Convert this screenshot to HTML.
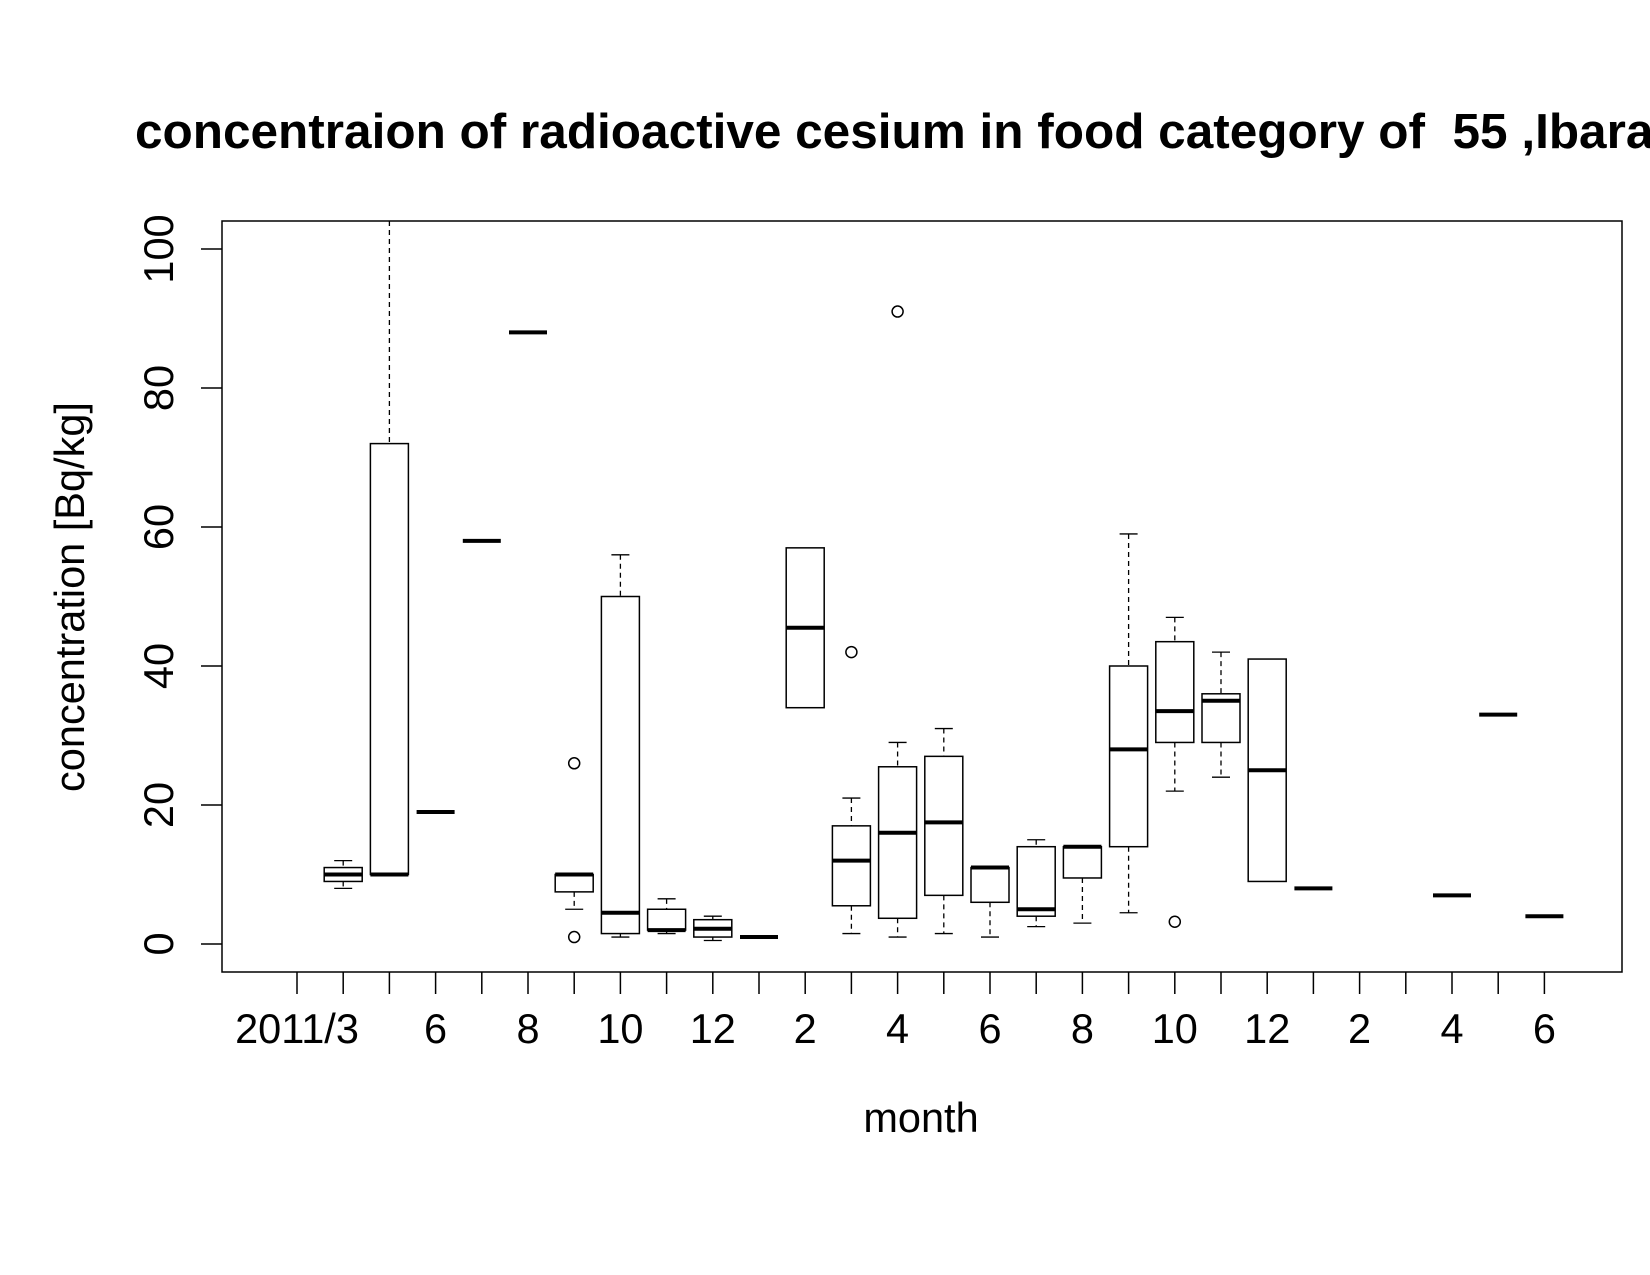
<!DOCTYPE html>
<html><head><meta charset="utf-8"><style>html,body{margin:0;padding:0;background:#fff}svg{display:block}text{font-family:"Liberation Sans",Arial,sans-serif;fill:#000;white-space:pre}</style></head>
<body>
<svg id="s" width="1650" height="1275" viewBox="0 0 1650 1275" xmlns="http://www.w3.org/2000/svg">
<rect width="1650" height="1275" fill="#fff"/>
<text x="135" y="148" font-size="49.5" font-weight="bold" xml:space="preserve">concentraion of radioactive cesium in food category of  55 ,Ibaraki</text>
<rect x="222" y="221" width="1400" height="751" fill="none" stroke="#000" stroke-width="1.5"/>
<g font-size="41.5" text-anchor="middle">
<text transform="translate(173,249) rotate(-90)">100</text>
<text transform="translate(173,388) rotate(-90)">80</text>
<text transform="translate(173,527) rotate(-90)">60</text>
<text transform="translate(173,666) rotate(-90)">40</text>
<text transform="translate(173,805) rotate(-90)">20</text>
<text transform="translate(173,944) rotate(-90)">0</text>
<text transform="translate(84,597) rotate(-90)">concentration [Bq/kg]</text>
<text x="297" y="1043">2011/3</text>
<text x="435.6" y="1043">6</text>
<text x="528" y="1043">8</text>
<text x="620.4" y="1043">10</text>
<text x="712.8" y="1043">12</text>
<text x="805.2" y="1043">2</text>
<text x="897.6" y="1043">4</text>
<text x="990" y="1043">6</text>
<text x="1082.4" y="1043">8</text>
<text x="1174.8" y="1043">10</text>
<text x="1267.2" y="1043">12</text>
<text x="1359.6" y="1043">2</text>
<text x="1452" y="1043">4</text>
<text x="1544.4" y="1043">6</text>
<text x="921" y="1132">month</text>
</g>
<g id="g" stroke="#000" fill="none"></g>
</svg>
<script>
var g=document.getElementById('g'),h='';
function X(i){return 297+46.2*i}function Y(v){return 944-6.95*v}
for(var v=0;v<=100;v+=20)h+='<line x1="201" x2="222" y1="'+Y(v)+'" y2="'+Y(v)+'" stroke-width="1.5"/>';
for(var i=0;i<=27;i++)h+='<line x1="'+X(i)+'" x2="'+X(i)+'" y1="972" y2="994" stroke-width="1.5"/>';
var B=[[1,8,9,10,11,12,[]],[2,10,10,10,72,120,[]],[3,19,19,19,19,19,[]],[4,58,58,58,58,58,[]],[5,88,88,88,88,88,[]],
[6,5,7.5,10,10,10,[26,1]],[7,1,1.5,4.5,50,56,[]],[8,1.5,2,2,5,6.5,[]],[9,0.5,1,2.2,3.5,4,[]],[10,1,1,1,1,1,[]],
[11,34,34,45.5,57,57,[]],[12,1.5,5.5,12,17,21,[42]],[13,1,3.7,16,25.5,29,[91]],[14,1.5,7,17.5,27,31,[]],
[15,1,6,11,11,11,[]],[16,2.5,4,5,14,15,[]],[17,3,9.5,14,14,14,[]],[18,4.5,14,28,40,59,[]],[19,22,29,33.5,43.5,47,[3.2]],
[20,24,29,35,36,42,[]],[21,9,9,25,41,41,[]],[22,8,8,8,8,8,[]],[25,7,7,7,7,7,[]],[26,33,33,33,33,33,[]],[27,4,4,4,4,4,[]]];
B.forEach(function(b){var x=X(b[0]),w=19;
 var top=Math.max(Y(b[5]),221);
 if(b[5]>b[4]){h+='<line x1="'+x+'" x2="'+x+'" y1="'+top+'" y2="'+Y(b[4])+'" stroke-dasharray="5,4" stroke-width="1.3"/>';if(b[5]<=100)h+='<line x1="'+(x-9)+'" x2="'+(x+9)+'" y1="'+Y(b[5])+'" y2="'+Y(b[5])+'" stroke-width="1.3"/>';}
 if(b[1]<b[2]){h+='<line x1="'+x+'" x2="'+x+'" y1="'+Y(b[2])+'" y2="'+Y(b[1])+'" stroke-dasharray="5,4" stroke-width="1.3"/><line x1="'+(x-9)+'" x2="'+(x+9)+'" y1="'+Y(b[1])+'" y2="'+Y(b[1])+'" stroke-width="1.3"/>';}
 if(b[4]>b[2])h+='<rect x="'+(x-w)+'" y="'+Y(b[4])+'" width="'+(2*w)+'" height="'+(Y(b[2])-Y(b[4]))+'" stroke-width="1.5"/>';
 h+='<line x1="'+(x-w)+'" x2="'+(x+w)+'" y1="'+Y(b[3])+'" y2="'+Y(b[3])+'" stroke-width="4"/>';
 b[6].forEach(function(o){h+='<circle cx="'+x+'" cy="'+Y(o)+'" r="5.5" stroke-width="1.5"/>'});
});
g.innerHTML=h;
</script>
</body></html>
